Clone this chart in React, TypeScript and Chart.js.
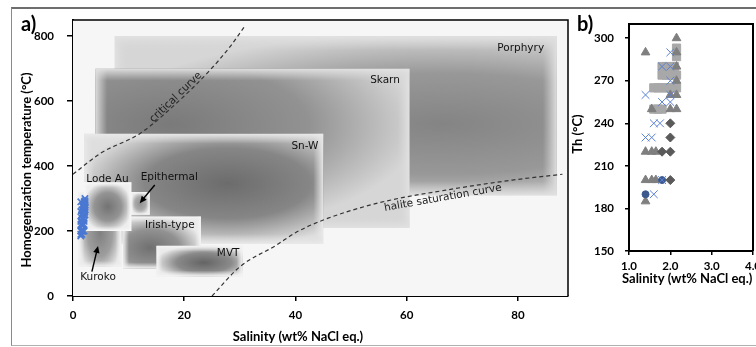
import React, { useEffect, useRef } from 'react';
import { Chart, registerables } from 'chart.js';
Chart.register(...registerables);

// ---------- Panel a data ----------
const fieldNames = ['Porphyry', 'Skarn', 'Sn-W', 'Kuroko', 'Irish-type', 'MVT', 'Lode Au', 'Epithermal'];
const fieldSalMin = [7.5, 4, 2, 1, 9, 15, 2, 10.4];
const fieldSalMax = [87, 60.5, 45, 8.7, 23, 30.5, 10.5, 13.8];
const fieldThMin = [310, 210, 160, 90, 85, 60, 200, 250];
const fieldThMax = [800, 700, 500, 320, 245, 155, 350, 320];

const criticalSal = [0, 5, 12, 19, 24.6, 28.2, 31];
const criticalTh = [375, 440, 500, 600, 695, 767, 834];
const haliteSal = [25, 30, 36.6, 40, 45, 55, 67, 79, 88];
const haliteTh = [0, 90, 157, 195, 234, 287, 326, 357, 375];

const aXTicks = [0, 20, 40, 60, 80];
const aYTicks = [0, 200, 400, 600, 800];

// ---------- Panel b data ----------
const triSal = [1.4, 2.15, 2.15, 2.15, 2.15, 2.0, 2.15, 1.55, 2.0, 2.15, 1.4, 1.55, 1.65, 1.4, 1.55, 1.65, 1.4];
const triTh = [290, 300, 290, 280, 270, 260, 260, 250, 250, 250, 220, 220, 220, 200, 200, 200, 185];
const sqSal = [2.15, 2.15, 1.8, 1.9, 2.0, 2.1, 1.8, 1.9, 2.0, 2.1, 2.15, 1.6, 1.7, 1.8, 1.9, 2.0, 2.1, 2.15, 1.6, 1.7, 1.8];
const sqTh = [293, 287, 280, 280, 280, 280, 274, 274, 274, 274, 274, 265, 265, 265, 265, 265, 265, 265, 250, 250, 250];
const diaSal = [2.0, 2.0, 1.8, 2.0, 2.0];
const diaTh = [240, 230, 220, 220, 200];
const circSal = [1.8, 1.4];
const circTh = [200, 190];
const crossSal = [2.0, 1.8, 2.0, 2.0, 1.4, 2.0, 1.8, 2.0, 1.6, 1.75, 1.4, 1.55, 1.8, 1.6];
const crossTh = [290, 280, 280, 270, 260, 260, 255, 255, 240, 240, 230, 230, 200, 190];

const bXTicks = [1, 2, 3, 4];
const bYTicks = [150, 180, 210, 240, 270, 300];

// ---------- styles / annotation anchors ----------
const fieldStyle = [
  { fx: 0.74, fy: 0.55, dark: 132, mid: 152, light: 214, feather: 14 },
  { fx: 0.24, fy: 0.35, dark: 122, mid: 146, light: 214, feather: 12 },
  { fx: 0.6, fy: 0.45, dark: 108, mid: 134, light: 222, feather: 10 },
  { fx: 0.5, fy: 0.55, dark: 128, mid: 158, light: 232, feather: 6 },
  { fx: 0.35, fy: 0.6, dark: 112, mid: 145, light: 234, feather: 6 },
  { fx: 0.55, fy: 0.55, dark: 100, mid: 138, light: 234, feather: 6 },
  { fx: 0.5, fy: 0.5, dark: 115, mid: 148, light: 238, feather: 5 },
  { fx: 0.5, fy: 0.5, dark: 145, mid: 170, light: 236, feather: 3 },
];
const labelSal = [80.5, 56.1, 41.7, 4.5, 17.4, 27.9, 6.2, 17.3];
const labelTh = [763, 665, 462, 58, 218, 132, 360, 366];

const zip = (xs: number[], ys: number[]) => xs.map((x, i) => ({ x, y: ys[i] }));
const grey = (v: number, a = 1) => `rgba(${v},${v},${v},${a})`;

function drawField(ctx: CanvasRenderingContext2D, x0: number, y0: number, x1: number, y1: number, st: any) {
  const w = x1 - x0, h = y1 - y0;
  const cx = x0 + w * st.fx, cy = y0 + h * st.fy;
  const rx = Math.max(st.fx, 1 - st.fx) * w, ry = Math.max(st.fy, 1 - st.fy) * h;
  ctx.save();
  ctx.beginPath();
  ctx.rect(x0, y0, w, h);
  ctx.clip();
  ctx.save();
  ctx.translate(cx, cy);
  ctx.scale(rx, ry);
  const g = ctx.createRadialGradient(0, 0, 0, 0, 0, 1.05);
  g.addColorStop(0, grey(st.dark));
  g.addColorStop(0.55, grey(st.mid));
  g.addColorStop(1, grey(st.light));
  ctx.fillStyle = g;
  ctx.fillRect(-2, -2, 4, 4);
  ctx.restore();
  const f = Math.max(3, Math.min(st.feather, Math.min(w, h) * 0.2));
  const edge = (gx0: number, gy0: number, gx1: number, gy1: number, rx0: number, ry0: number, rw: number, rh: number) => {
    const lg = ctx.createLinearGradient(gx0, gy0, gx1, gy1);
    lg.addColorStop(0, grey(Math.min(250, st.light + 12), 0.95));
    lg.addColorStop(1, grey(st.light, 0));
    ctx.fillStyle = lg;
    ctx.fillRect(rx0, ry0, rw, rh);
  };
  edge(x0, 0, x0 + f, 0, x0, y0, f, h);
  edge(x1, 0, x1 - f, 0, x1 - f, y0, f, h);
  edge(0, y0, 0, y0 + f, x0, y0, w, f);
  edge(0, y1, 0, y1 - f, x0, y1 - f, w, f);
  ctx.restore();
}

function arrow(ctx: CanvasRenderingContext2D, xa: number, ya: number, xb: number, yb: number) {
  const ang = Math.atan2(yb - ya, xb - xa);
  const hl = 7, hw = 3.2;
  ctx.strokeStyle = '#000';
  ctx.fillStyle = '#000';
  ctx.lineWidth = 1.4;
  ctx.beginPath();
  ctx.moveTo(xa, ya);
  ctx.lineTo(xb - Math.cos(ang) * hl * 0.8, yb - Math.sin(ang) * hl * 0.8);
  ctx.stroke();
  ctx.beginPath();
  ctx.moveTo(xb, yb);
  ctx.lineTo(xb - Math.cos(ang) * hl - Math.sin(ang) * hw, yb - Math.sin(ang) * hl + Math.cos(ang) * hw);
  ctx.lineTo(xb - Math.cos(ang) * hl + Math.sin(ang) * hw, yb - Math.sin(ang) * hl - Math.cos(ang) * hw);
  ctx.closePath();
  ctx.fill();
}

const fixSize = (size: number, horizontal: boolean) => (scale: any) => {
  if (horizontal) scale.height = size;
  else scale.width = size;
  scale.paddingLeft = 0;
  scale.paddingRight = 0;
  scale.paddingTop = 0;
  scale.paddingBottom = 0;
};
const setTicks = (vals: number[]) => (scale: any) => {
  scale.ticks = vals.map((v) => ({ value: v }));
};

const tickFont = { family: 'Lato', weight: 'bold' as const, size: 11.5 };
const titleFont = 'bold 13px Lato';
const annFont = '10.5px "DejaVu Sans"';

const panelAPlugin = {
  id: 'panelA',
  beforeDatasetsDraw(chart: any) {
    const { ctx, chartArea: ca, scales } = chart;
    const x = scales.x, y = scales.y;
    ctx.save();
    ctx.beginPath();
    ctx.rect(ca.left, ca.top, ca.right - ca.left, ca.bottom - ca.top);
    ctx.clip();
    ctx.fillStyle = '#f6f6f6';
    ctx.fillRect(ca.left, ca.top, ca.right - ca.left, ca.bottom - ca.top);
    fieldNames.forEach((_, i) => {
      drawField(
        ctx,
        x.getPixelForValue(fieldSalMin[i]),
        y.getPixelForValue(fieldThMax[i]),
        x.getPixelForValue(fieldSalMax[i]),
        y.getPixelForValue(fieldThMin[i]),
        fieldStyle[i]
      );
    });
    ctx.restore();
  },
  afterDatasetsDraw(chart: any) {
    const { ctx, scales } = chart;
    const x = scales.x, y = scales.y;
    ctx.save();
    ctx.font = annFont;
    ctx.fillStyle = '#111';
    ctx.textAlign = 'center';
    ctx.textBaseline = 'middle';
    fieldNames.forEach((n, i) => {
      ctx.fillText(n, x.getPixelForValue(labelSal[i]), y.getPixelForValue(labelTh[i]));
    });
    const rot = (t: string, s: number, th: number, deg: number) => {
      ctx.save();
      ctx.translate(x.getPixelForValue(s), y.getPixelForValue(th));
      ctx.rotate((deg * Math.PI) / 180);
      ctx.fillText(t, 0, 0);
      ctx.restore();
    };
    ctx.fillStyle = '#222';
    rot('critical curve', 18.5, 612, -44);
    rot('halite saturation curve', 66.5, 302, -10);
    arrow(ctx, x.getPixelForValue(14.7), y.getPixelForValue(342), x.getPixelForValue(12.0), y.getPixelForValue(286));
    arrow(ctx, x.getPixelForValue(3.4), y.getPixelForValue(75), x.getPixelForValue(4.5), y.getPixelForValue(154));
    ctx.restore();
  },
  afterDraw(chart: any) {
    const { ctx, chartArea: ca } = chart;
    ctx.save();
    ctx.strokeStyle = '#000';
    ctx.lineWidth = 1.5;
    ctx.beginPath();
    ctx.moveTo(ca.left, ca.top);
    ctx.lineTo(ca.right, ca.top);
    ctx.lineTo(ca.right, ca.bottom);
    ctx.stroke();
    ctx.fillStyle = '#000';
    ctx.font = titleFont;
    ctx.textAlign = 'center';
    ctx.textBaseline = 'middle';
    ctx.fillText('Salinity (wt% NaCl eq.)', 298, 337);
    ctx.save();
    ctx.translate(27, 170);
    ctx.rotate(-Math.PI / 2);
    ctx.fillText('Homogenization temperature (°C)', 0, 0);
    ctx.restore();
    ctx.font = 'bold 20px Lato';
    ctx.textAlign = 'left';
    ctx.textBaseline = 'alphabetic';
    ctx.fillText('a)', 21, 31);
    ctx.restore();
  },
};

const panelBPlugin = {
  id: 'panelB',
  afterDraw(chart: any) {
    const { ctx, chartArea: ca } = chart;
    ctx.save();
    ctx.strokeStyle = '#000';
    ctx.lineWidth = 2;
    ctx.beginPath();
    ctx.moveTo(ca.left, ca.top);
    ctx.lineTo(ca.right, ca.top);
    ctx.lineTo(ca.right, ca.bottom);
    ctx.stroke();
    ctx.fillStyle = '#000';
    ctx.font = titleFont;
    ctx.textAlign = 'left';
    ctx.textBaseline = 'middle';
    ctx.fillText('Salinity (wt% NaCl eq.)', 62, 279);
    ctx.save();
    ctx.translate(18, 134);
    ctx.rotate(-Math.PI / 2);
    ctx.textAlign = 'center';
    ctx.fillText('Th (°C)', 0, 0);
    ctx.restore();
    ctx.font = 'bold 20px Lato';
    ctx.textAlign = 'left';
    ctx.textBaseline = 'alphabetic';
    ctx.fillText('b)', 17, 31);
    ctx.restore();
  },
};

const axisCommon = (tickLength: number, padding: number) => ({
  type: 'linear' as const,
  grid: { display: true, drawOnChartArea: false, drawTicks: true, tickLength, color: '#000', lineWidth: 1.5 },
  border: { display: true, color: '#000', width: 2 },
  ticks: { color: '#000', font: tickFont, padding, maxRotation: 0, autoSkip: false },
});

export default function App() {
  const refA = useRef<HTMLCanvasElement>(null);
  const refB = useRef<HTMLCanvasElement>(null);

  useEffect(() => {
    const allSal = [...triSal, ...sqSal, ...diaSal, ...circSal, ...crossSal];
    const allTh = [...triTh, ...sqTh, ...diaTh, ...circTh, ...crossTh];

    const chartA = new Chart(refA.current as HTMLCanvasElement, {
      type: 'scatter',
      data: {
        datasets: [
          {
            label: 'Fluid inclusions',
            data: zip(allSal, allTh),
            pointStyle: 'crossRot',
            pointRadius: 4.5,
            borderColor: '#4a78d2',
            backgroundColor: '#4a78d2',
            pointBorderWidth: 1.6,
          },
          {
            label: 'critical curve',
            data: zip(criticalSal, criticalTh),
            showLine: true,
            borderColor: '#333',
            borderWidth: 1.2,
            borderDash: [4, 3],
            pointRadius: 0,
            cubicInterpolationMode: 'monotone',
          },
          {
            label: 'halite saturation curve',
            data: zip(haliteSal, haliteTh),
            showLine: true,
            borderColor: '#333',
            borderWidth: 1.2,
            borderDash: [4, 3],
            pointRadius: 0,
            cubicInterpolationMode: 'monotone',
          },
        ] as any,
      },
      options: {
        responsive: false,
        animation: false,
        events: [],
        layout: { padding: { top: 20, right: 7, left: 0, bottom: 0 } },
        plugins: { legend: { display: false }, tooltip: { enabled: false } },
        scales: {
          x: {
            ...axisCommon(5, 7),
            min: 0,
            max: 89,
            afterBuildTicks: setTicks(aXTicks),
            afterFit: fixSize(51, true),
          },
          y: {
            ...axisCommon(6, 13),
            min: 0,
            max: 850,
            afterBuildTicks: setTicks(aYTicks),
            afterFit: fixSize(73, false),
          },
        } as any,
      },
      plugins: [panelAPlugin],
    });

    const chartB = new Chart(refB.current as HTMLCanvasElement, {
      type: 'scatter',
      data: {
        datasets: [
          {
            label: 'X',
            data: zip(crossSal, crossTh),
            pointStyle: 'crossRot',
            pointRadius: 5.5,
            borderColor: '#5b80d4',
            backgroundColor: '#5b80d4',
            pointBorderWidth: 1,
          },
          {
            label: 'Circle',
            data: zip(circSal, circTh),
            pointStyle: 'circle',
            pointRadius: 3.5,
            borderColor: '#3d5a8f',
            backgroundColor: '#3d5a8f',
          },
          {
            label: 'Diamond',
            data: zip(diaSal, diaTh),
            pointStyle: 'rectRot',
            pointRadius: 4.5,
            borderColor: '#5a5a5a',
            backgroundColor: '#5a5a5a',
          },
          {
            label: 'Triangle',
            data: zip(triSal, triTh),
            pointStyle: 'triangle',
            pointRadius: 5,
            borderColor: '#7f7f7f',
            backgroundColor: '#7f7f7f',
          },
          {
            label: 'Square',
            data: zip(sqSal, sqTh),
            pointStyle: 'rect',
            pointRadius: 5.8,
            borderColor: '#a8a8a8',
            backgroundColor: '#a8a8a8',
          },
        ] as any,
      },
      options: {
        responsive: false,
        animation: false,
        events: [],
        layout: { padding: { top: 24, right: 22, left: 0, bottom: 0 } },
        plugins: { legend: { display: false }, tooltip: { enabled: false } },
        scales: {
          x: {
            ...axisCommon(4, 4),
            min: 1,
            max: 4,
            afterBuildTicks: setTicks(bXTicks),
            afterFit: fixSize(96, true),
            ticks: { ...axisCommon(4, 4).ticks, callback: (v: any) => Number(v).toFixed(1) },
          },
          y: {
            ...axisCommon(4, 11),
            min: 150,
            max: 310,
            afterBuildTicks: setTicks(bYTicks),
            afterFit: fixSize(69, false),
          },
        } as any,
      },
      plugins: [panelBPlugin],
    });

    return () => {
      chartA.destroy();
      chartB.destroy();
    };
  }, []);

  return (
    <div style={{ position: 'fixed', left: 0, top: 0, width: 756, height: 347, overflow: 'hidden', background: '#fff' }}>
      <div
        style={{
          position: 'absolute',
          left: 11,
          top: 7,
          width: 800,
          height: 339,
          boxSizing: 'border-box',
          borderTop: '2px solid #6e6e6e',
          borderLeft: '1px solid #8a8a8a',
          borderBottom: '1px solid #b0b0b0',
        }}
      />
      <canvas ref={refA} width={575} height={347} style={{ position: 'absolute', left: 0, top: 0, width: 575, height: 347 }} />
      <canvas ref={refB} width={215} height={347} style={{ position: 'absolute', left: 560, top: 0, width: 215, height: 347 }} />
    </div>
  );
}
